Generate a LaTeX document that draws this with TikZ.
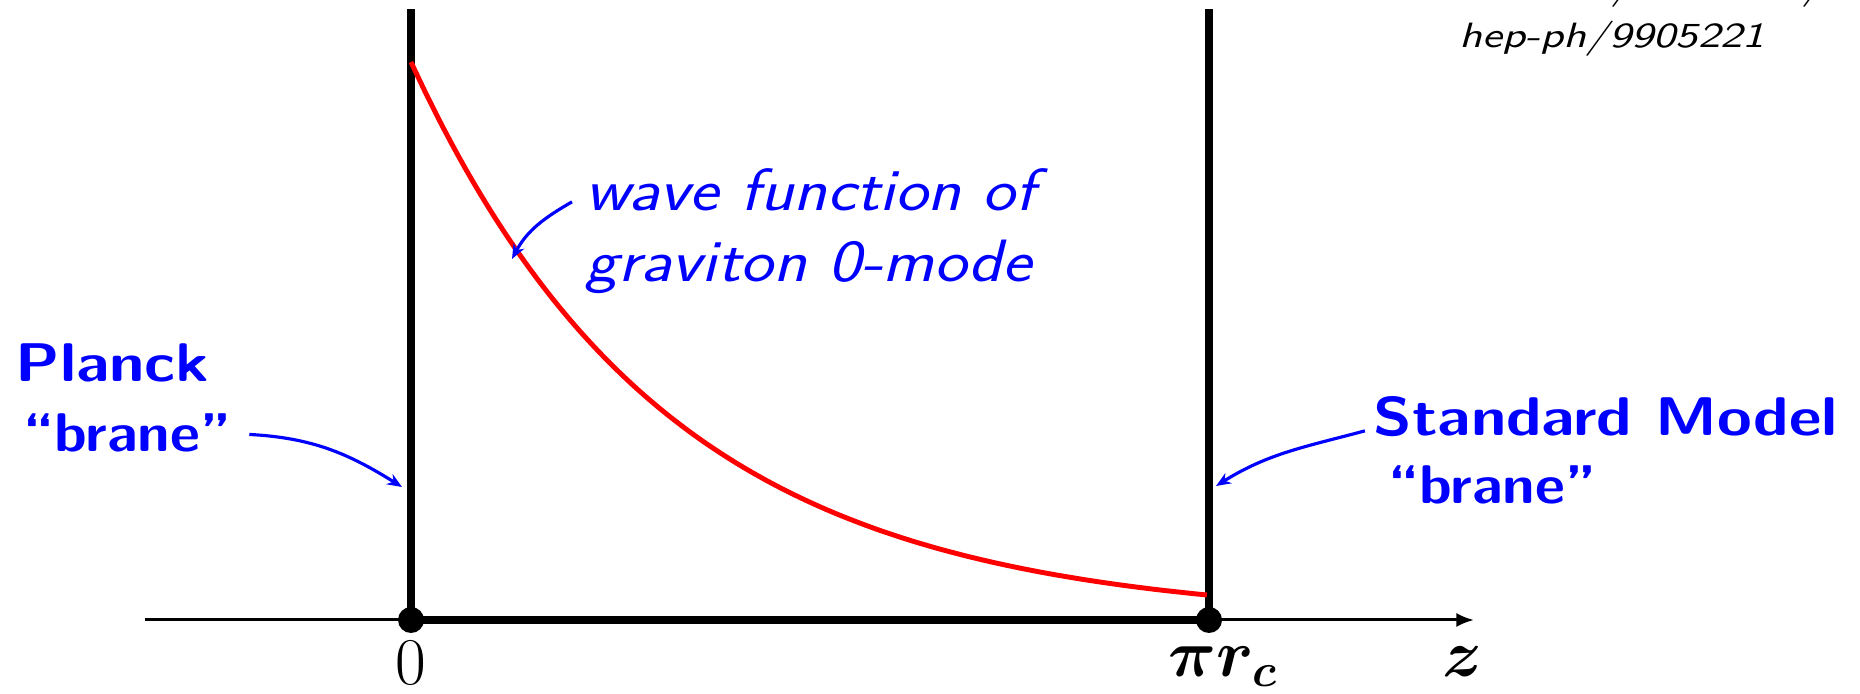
\RequirePackage{fix-cm}
\documentclass[tikz,border=0pt]{standalone}
\usepackage{amsmath}
\usepackage{amssymb}
\usepackage{fontspec}
\newfontfamily\labelsf{Latin Modern Sans}[FakeStretch=1.16]
\newfontfamily\quotesf{Latin Modern Sans}[FakeStretch=1.07]
\newfontfamily\refsf{Latin Modern Sans}[FakeStretch=1.27]
\usetikzlibrary{
  arrows.meta,
  positioning,
  calc
}

\begin{document}
\begin{tikzpicture}[
    >=Latex,
    brane/.style={line width=2.3pt},
    pointer/.style={->,blue,line width=0.9pt,>={Stealth[length=4.2pt,width=3.4pt]}},
    boldlabel/.style={blue,inner sep=0pt,anchor=base west,font=\fontsize{15.5}{18}\selectfont\labelsf\bfseries},
    quotelabel/.style={boldlabel,font=\fontsize{15.5}{18}\selectfont\quotesf\bfseries},
    itlabel/.style={blue,inner sep=0pt,anchor=base west,font=\fontsize{17}{20}\selectfont\labelsf\itshape},
    reflabel/.style={inner sep=0pt,anchor=base west,font=\fontsize{10}{12}\selectfont\refsf\itshape},
    axislabel/.style={inner sep=0pt,font=\fontsize{19}{22}\selectfont}
    ]

    \useasboundingbox (-4.11,-0.74) rectangle (14.49,6.20);

    % axis
    \coordinate (zstart) at (-2.66,0);
    \coordinate (zend) at (10.63,0);
    \draw[->,line width=0.85pt,>={Latex[length=5pt,width=4pt]}] (zstart) -- (zend);

    % the two branes
    \coordinate (bzero) at (0,0);
    \coordinate (bpi) at (7.98,0);
    \draw[brane] (bzero) -- (0,6.11);
    \draw[brane] (bpi) -- (7.98,6.11);
    \draw[brane] (bzero) -- (bpi);
    \fill (bzero) circle (0.13);
    \fill (bpi) circle (0.13);

    % graviton zero mode
    \draw[red,line width=1.4pt]
    plot[domain=0:7.96,samples=120] (\x,{5.58*exp(-0.39*\x)});

    % axis labels
    \node[axislabel,anchor=base] (lzero) at (0,-0.65) {$0$};
    \node[axislabel,anchor=base west] (lpi) at (7.57,-0.565) {$\boldsymbol{\pi r_c}$};
    \node[axislabel,anchor=base] (lz) at (10.51,-0.57) {$\boldsymbol{z}$};

    % labels
    \node[boldlabel] (planck) at (-3.96,2.38) {Planck};
    \node[quotelabel] (planckbrane) at (-3.88,1.68) {“brane”};
    \node[boldlabel] (sm) at (9.62,1.84) {Standard Model};
    \node[quotelabel] (smbrane) at (9.77,1.16) {“brane”};
    \node[itlabel] (wave) at (1.74,4.09) {wave function of};
    \node[itlabel] (graviton) at ([yshift=-0.71cm]wave.base west) {graviton 0-mode};
    \node[reflabel] (rs) at (10.62,6.21) {Randall/Sundrum/};
    \node[reflabel] (hep) at (10.48,5.72) {hep-ph/9905221};

    % pointers
    \coordinate (planckhit) at (-0.09,1.33);
    \coordinate (smhit) at (8.05,1.34);
    \coordinate (wavehit) at (1.01,3.61);
    \draw[pointer] ([xshift=5pt,yshift=-0.3pt]planckbrane.east)
    to[out=-3,in=148] (planckhit);
    \draw[pointer] ([xshift=-2.3pt,yshift=2pt]sm.south west)
    to[out=195,in=32] (smhit);
    \draw[pointer] ([xshift=-3.7pt,yshift=2.6pt]wave.base west)
    to[out=210,in=62] (wavehit);

\end{tikzpicture}
\end{document}
